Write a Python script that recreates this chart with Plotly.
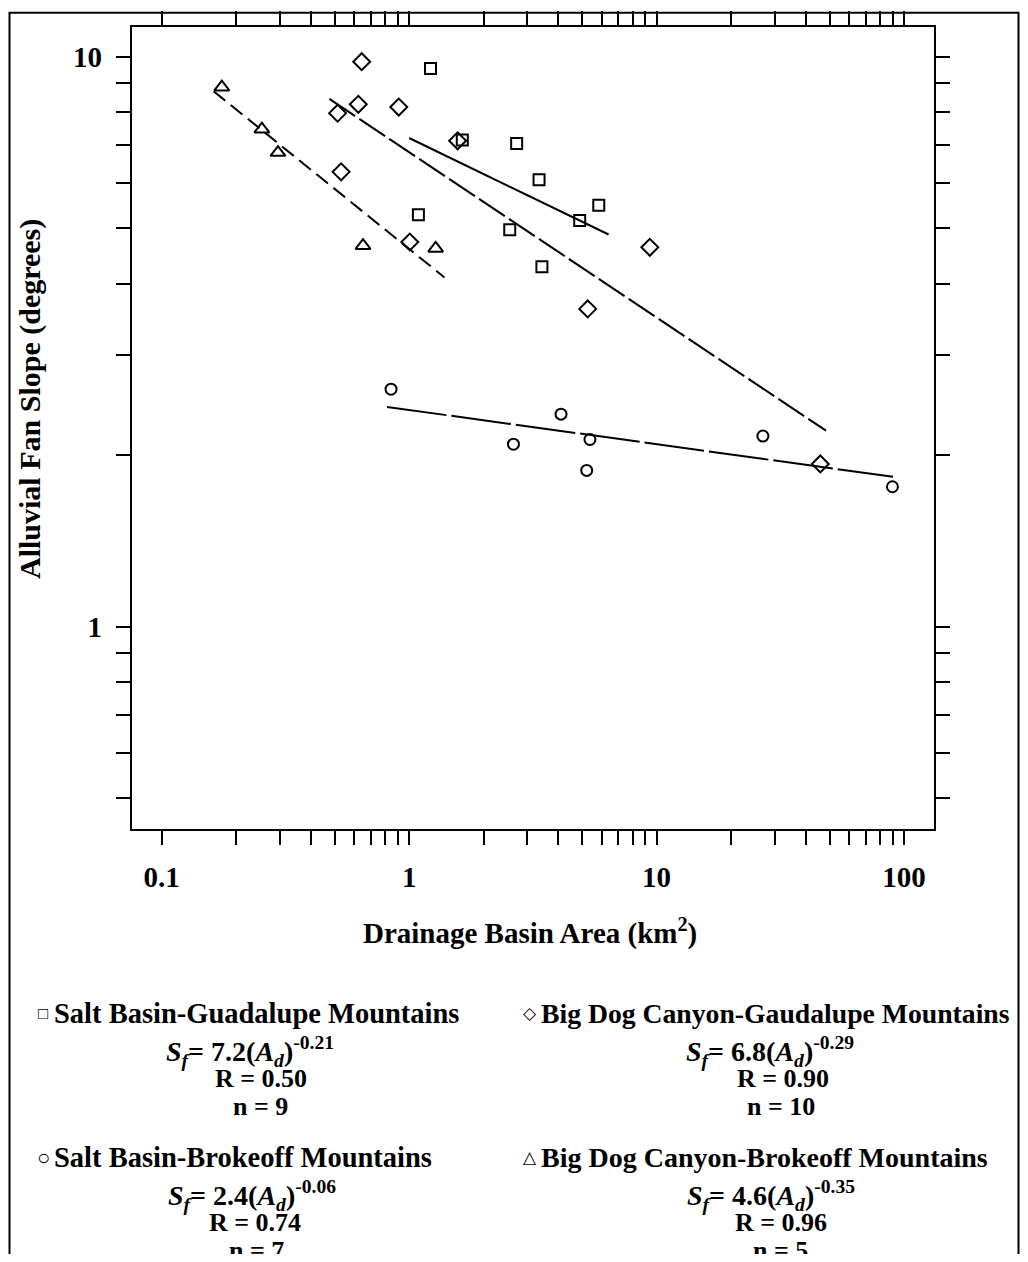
import plotly.graph_objects as go

# ---------------- data ----------------
# Salt Basin-Guadalupe Mountains (squares)
sbg_area = [1.22, 1.64, 2.72, 3.35, 1.09, 2.55, 3.44, 4.89, 5.84]
sbg_slope = [9.53, 7.14, 7.04, 6.08, 5.28, 4.97, 4.28, 5.16, 5.49]
# Big Dog Canyon-Gaudalupe Mountains (diamonds)
bdg_area = [0.643, 0.623, 0.908, 0.514, 1.57, 0.531, 1.006, 9.39, 5.27, 45.9]
bdg_slope = [9.80, 8.25, 8.16, 7.96, 7.12, 6.28, 4.73, 4.63, 3.61, 1.93]
# Salt Basin-Brokeoff Mountains (circles)
sbb_area = [0.845, 4.11, 2.64, 5.38, 5.22, 26.9, 89.8]
sbb_slope = [2.61, 2.36, 2.09, 2.13, 1.88, 2.16, 1.76]
# Big Dog Canyon-Brokeoff Mountains (triangles)
bdb_area = [0.175, 0.254, 0.295, 0.651, 1.28]
bdb_slope = [8.84, 7.46, 6.79, 4.66, 4.61]

# regression fits  S_f = coef * A_d ** expo, drawn over the x extent shown
fit_names = ["Salt Basin-Guadalupe Mountains", "Big Dog Canyon-Gaudalupe Mountains",
             "Salt Basin-Brokeoff Mountains", "Big Dog Canyon-Brokeoff Mountains"]
fit_coef = [7.2, 6.8, 2.4, 4.6]
fit_expo = [-0.21, -0.29, -0.06, -0.35]
fit_R = ["0.50", "0.90", "0.74", "0.96"]
fit_n = [9, 10, 7, 5]
fit_xmin = [1.0, 0.476, 0.814, 0.162]
fit_xmax = [6.4, 48.4, 90.3, 1.39]

x_tickvals = [0.1, 0.2, 0.3, 0.4, 0.5, 0.6, 0.7, 0.8, 0.9,
              1, 2, 3, 4, 5, 6, 7, 8, 9,
              10, 20, 30, 40, 50, 60, 70, 80, 90, 100]
x_ticklabels = {0.1: "0.1", 1: "1", 10: "10", 100: "100"}
y_tickvals = [0.5, 0.6, 0.7, 0.8, 0.9, 1, 2, 3, 4, 5, 6, 7, 8, 9, 10]
y_ticklabels = {1: "1", 10: "10"}

# ---------------- figure ----------------
OFF = 8  # page body margin
W, H = 1028 - 2 * OFF, 1262 - 2 * OFF
FONT = "Liberation Serif"


def px(xp):
    return (xp - OFF) / W


def py(yp):
    return 1 - (yp - OFF) / H


fig = go.Figure()

series = [
    (sbg_area, sbg_slope, "square-open", 11),
    (bdg_area, bdg_slope, "diamond-open", 13),
    (sbb_area, sbb_slope, "circle-open", 11),
    (bdb_area, bdb_slope, "triangle-up-open", 13),
]
dashes = ["solid", "31px,5px", "60px,5px", "15px,7px"]

for i in range(4):
    xs = [fit_xmin[i], fit_xmax[i]]
    ys = [fit_coef[i] * x ** fit_expo[i] for x in xs]
    fig.add_trace(go.Scatter(x=xs, y=ys, mode="lines",
                             line=dict(color="black", width=2, dash=dashes[i]),
                             showlegend=False, hoverinfo="skip"))

for xs, ys, sym, size in series:
    fig.add_trace(go.Scatter(x=xs, y=ys, mode="markers",
                             marker=dict(symbol=sym, size=size, color="black",
                                         line=dict(color="black", width=2)),
                             showlegend=False))

axis_common = dict(type="log", showline=True, linecolor="black", linewidth=2,
                   mirror="ticks", ticks="outside", ticklen=14, tickwidth=2,
                   tickcolor="black", showgrid=False, zeroline=False,
                   tickmode="array", automargin=False,
                   tickfont=dict(family=FONT, size=29, color="black", weight="bold"))

fig.update_xaxes(range=[-1.1213, 2.1213], domain=[px(131.7), px(934)],
                 tickvals=x_tickvals,
                 ticktext=[x_ticklabels.get(v, "") for v in x_tickvals],
                 ticklabelstandoff=7, **axis_common)
fig.update_yaxes(range=[-0.3544, 1.0526], domain=[py(828.7), py(26.7)],
                 tickvals=y_tickvals,
                 ticktext=[y_ticklabels.get(v, "") for v in y_tickvals],
                 ticklabelstandoff=8, **axis_common)

# outer frame
fig.add_shape(type="rect", xref="paper", yref="paper",
              x0=px(9.5), x1=px(1018.5), y0=py(1280), y1=py(12.7),
              line=dict(color="black", width=2), fillcolor="rgba(0,0,0,0)", layer="below")

annos = []


def txt(x, y, s, size=27, xanchor="center", bold=True):
    annos.append(dict(x=px(x), y=py(y), xref="paper", yref="paper", text=s,
                      showarrow=False, xanchor=xanchor, yanchor="middle",
                      font=dict(family=FONT, size=size, color="black",
                                weight="bold" if bold else "normal")))


# axis titles
txt(530, 931, "Drainage Basin Area (km<sup>2</sup>)", size=29)
annos.append(dict(x=px(30), y=py(399), xref="paper", yref="paper",
                  text="Alluvial Fan Slope (degrees)", textangle=-90,
                  showarrow=False, xanchor="center", yanchor="middle",
                  font=dict(family=FONT, size=30, color="black", weight="bold")))

# legend blocks
symbols = ["\u25a1", "\u25c7", "\u25cb", "\u25b3"]
sym_size = [17, 17, 22, 17]
sym_x = [43, 530, 43, 530]
name_x = [52, 539, 52, 539]
name_size = [28.5, 27.7, 28.5, 28]
row_y = [1013, 1013, 1157, 1157]
eq_x = [250, 770, 252, 771]
r_x = [261, 783, 255, 781]
n_x = [260, 781, 256, 780]

for i in range(4):
    y0 = row_y[i]
    txt(sym_x[i], y0, symbols[i], size=sym_size[i], bold=False)
    txt(name_x[i], y0, fit_names[i], size=name_size[i], xanchor="left")
    eq = ("<i>S</i><sub><i>f</i></sub>= %.1f(<i>A</i><sub><i>d</i></sub>)<sup>%.2f</sup>"
          % (fit_coef[i], fit_expo[i]))
    txt(eq_x[i], y0 + 38, eq, size=28)
    txt(r_x[i], y0 + 65, "R = %s" % fit_R[i], size=26)
    txt(n_x[i], y0 + 93, "n = %d" % fit_n[i], size=26)

fig.update_layout(width=W, height=H, margin=dict(l=0, r=0, t=0, b=0),
                  paper_bgcolor="white", plot_bgcolor="white",
                  annotations=annos, showlegend=False)

fig.write_html("out.html")
